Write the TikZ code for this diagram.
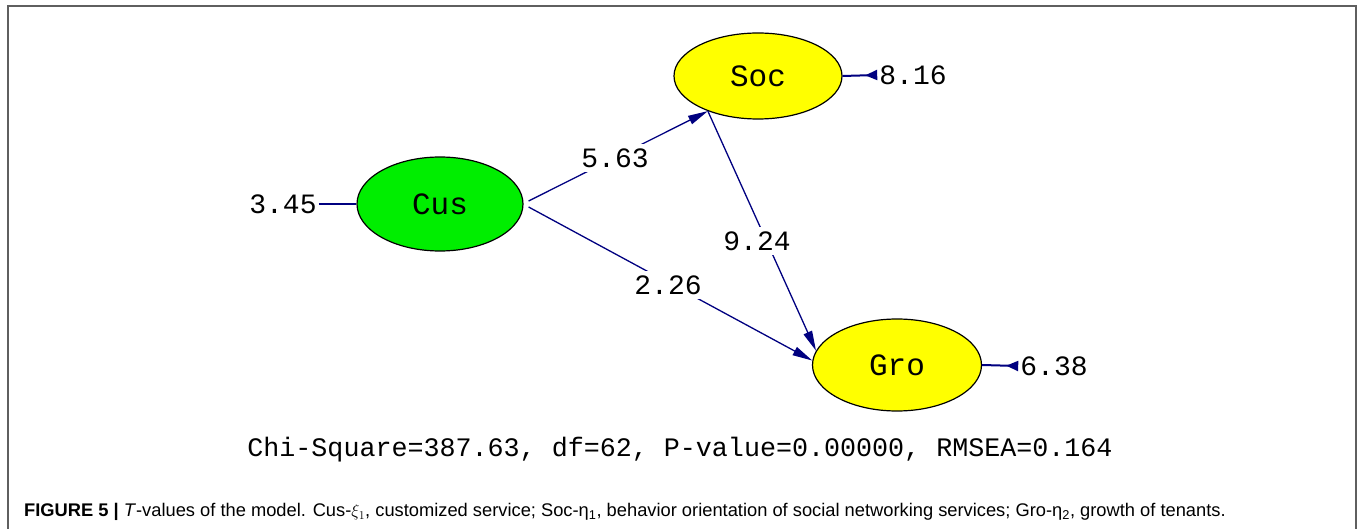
\documentclass[tikz,border=0pt]{standalone}
\usepackage{fontspec}
\setmainfont{Liberation Sans}
\newfontfamily\monof{Liberation Mono}
\usetikzlibrary{shapes.geometric,arrows.meta}
\definecolor{navy}{RGB}{0,0,128}
\definecolor{framegray}{RGB}{95,95,95}
\definecolor{latgreen}{RGB}{0,238,0}
\definecolor{latyellow}{RGB}{255,255,0}
\begin{document}
\begin{tikzpicture}[x=1pt,y=-1pt,
  latent/.style={ellipse, draw=black, line width=1.2pt, inner sep=0pt,
    font=\monof\fontsize{31}{31}\selectfont},
  val/.style={font=\monof\fontsize{28}{28}\selectfont, inner sep=2pt},
  lbl/.style={val, fill=white, inner sep=4pt},
  arr/.style={draw=navy, line width=1.3pt, -{Triangle[length=20pt,width=9pt]}},
  resid/.style={draw=navy, line width=2pt, -{Triangle[reversed,length=12pt,width=10pt]}},
  fixline/.style={draw=navy, line width=1.4pt}]
\useasboundingbox (0,0) rectangle (1362,529);
\draw[framegray, line width=1.5pt] (8,545) -- (8,6) -- (1356,6) -- (1356,545);

\node[latent, fill=latgreen, minimum width=166pt, minimum height=94pt] (cus) at (440,204) {Cus};
\node[latent, fill=latyellow, minimum width=168pt, minimum height=86pt] (soc) at (758,76) {Soc};
\node[latent, fill=latyellow, minimum width=169pt, minimum height=92pt] (gro) at (897,365) {Gro};

\node[val] (r345) at (283,204) {3.45};
\node[val] (r816) at (913,75) {8.16};
\node[val] (r638) at (1054,366) {6.38};

\draw[fixline] (r345.east) -- (cus.west);
\draw[resid] (soc.east) -- (r816.west);
\draw[resid] (gro.east) -- (r638.west);

\draw[arr] ([xshift=5pt,yshift=3pt]cus.east) -- (soc.215);
\draw[arr] ([xshift=5pt,yshift=-3pt]cus.east) -- (gro.177);
\draw[arr] (soc.215) -- (gro.170);

\node[lbl] (l563) at (615,158) {5.63};
\node[lbl] (l924) at (757,241) {9.24};
\node[lbl] (l226) at (668,285) {2.26};

\node[font=\monof\fontsize{26.7}{27}\selectfont] (chi) at (680,450) {Chi-Square=387.63, df=62, P-value=0.00000, RMSEA=0.164};

\node[anchor=west, inner sep=0pt, font=\fontsize{18.3}{20}\selectfont] (cap) at (24,512)
 {\textbf{FIGURE 5 |} \textit{T}-values of the model. Cus-$\xi_1$, customized service; Soc-η\textsubscript{1}, behavior orientation of social networking services; Gro-η\textsubscript{2}, growth of tenants.};
\end{tikzpicture}
\end{document}
